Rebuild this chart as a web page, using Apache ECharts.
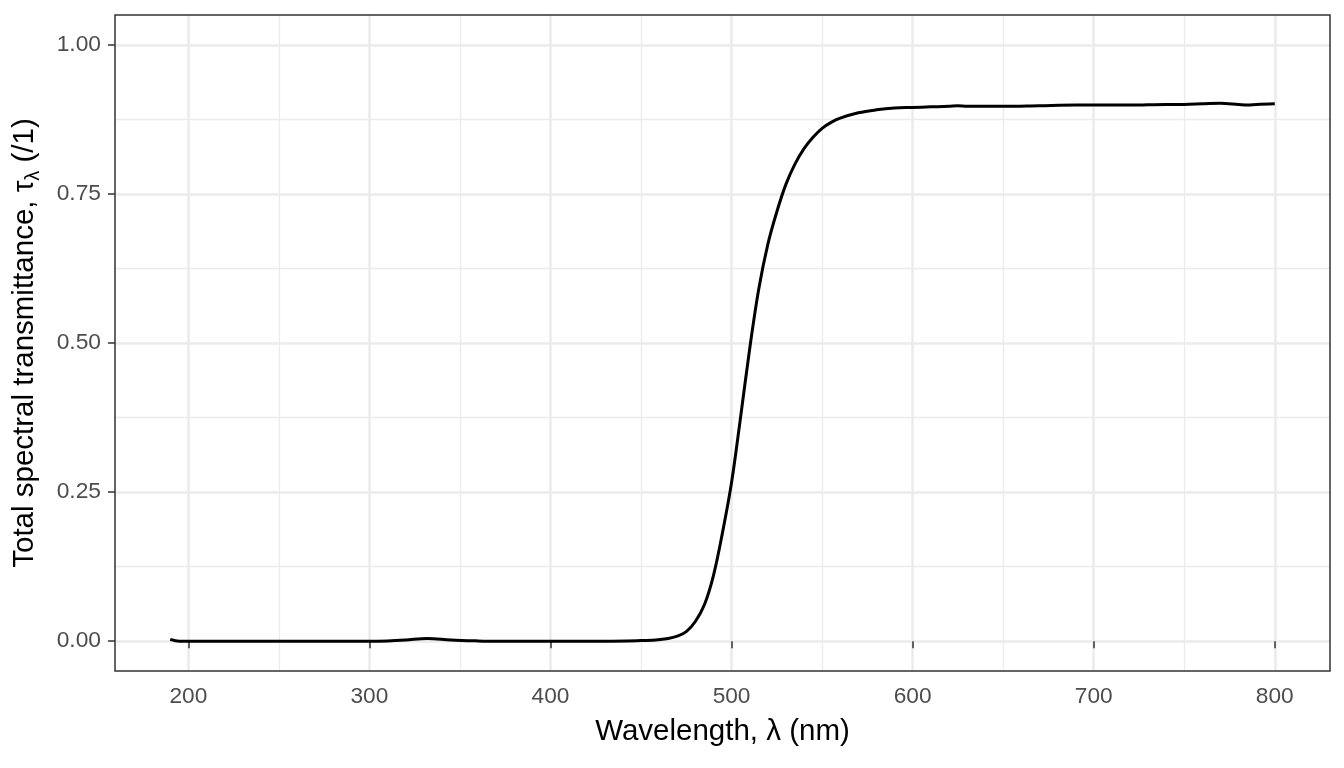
<!DOCTYPE html>
<html>
<head>
<meta charset="utf-8">
<script src="https://cdn.jsdelivr.net/npm/echarts@6/dist/echarts.min.js"></script>
<style>
html,body{margin:0;padding:0;background:#fff;}
#chart{width:1344px;height:768px;}
</style>
</head>
<body>
<div id="chart"></div>
<script>
// Wavelength (nm)
const wavelengths = [190, 195, 200, 220, 250, 280, 300, 310, 320, 332, 345, 360, 370, 400, 430, 450, 458, 465, 470, 475, 480, 485, 490, 495, 500, 505, 510, 515, 520, 525, 530, 535, 540, 545, 550, 555, 560, 570, 580, 590, 600, 610, 620, 625, 630, 650, 670, 690, 700, 720, 740, 750, 760, 770, 780, 785, 790, 800];
// Total spectral transmittance (/1)
const transmittance = [0.003, 0.0, 0.0, 0.0, 0.0, 0.0, 0.0, 0.0005, 0.002, 0.0045, 0.002, 0.0005, 0.0, 0.0, 0.0, 0.001, 0.002, 0.0045, 0.0085, 0.016, 0.033, 0.061, 0.110, 0.182, 0.266, 0.376, 0.49, 0.59, 0.665, 0.72, 0.766, 0.80, 0.826, 0.845, 0.86, 0.87, 0.877, 0.886, 0.891, 0.894, 0.895, 0.896, 0.897, 0.898, 0.897, 0.897, 0.898, 0.899, 0.899, 0.899, 0.900, 0.900, 0.901, 0.902, 0.900, 0.899, 0.900, 0.901];
// Tick values
const xTicks = [200, 300, 400, 500, 600, 700, 800];
const xMinor = [250, 350, 450, 550, 650, 750];
const yTicks = [0, 0.25, 0.5, 0.75, 1.0];
const yMinor = [0.125, 0.375, 0.625, 0.875];
const xRange = [159.5, 830.5];
const yRange = [-0.05, 1.05];

const points = wavelengths.map((w, i) => [w, transmittance[i]]);

const chart = echarts.init(document.getElementById('chart'), null, {renderer: 'canvas'});
const FONT = 'Liberation Sans, Arial, sans-serif';
const gridColor = '#EBEBEB';

chart.setOption({
  animation: false,
  backgroundColor: '#ffffff',
  grid: {left: 115, right: 14, top: 15, bottom: 97, show: true, borderColor: '#333333', borderWidth: 1.5, backgroundColor: 'transparent', z: 10},
  xAxis: [{
    type: 'value', min: xRange[0], max: xRange[1], interval: 100,
    axisLine: {show: false},
    axisTick: {show: true, length: 7, lineStyle: {color: '#333333', width: 1.5}, customValues: xTicks},
    axisLabel: {show: true, customValues: xTicks, margin: 14, color: '#4D4D4D', fontSize: 22.7, fontFamily: FONT,
      formatter: v => String(v)},
    splitLine: {show: true, lineStyle: {color: gridColor, width: 2.5}},
    name: 'Wavelength, λ (nm)', nameLocation: 'middle', nameGap: 46,
    nameTextStyle: {color: '#000000', fontSize: 29.5, fontFamily: FONT}
  }, {
    type: 'value', min: xRange[0], max: xRange[1], interval: 100, position: 'top',
    axisLine: {show: false},
    axisTick: {show: false, customValues: xMinor},
    axisLabel: {show: false, customValues: xMinor},
    splitLine: {show: true, lineStyle: {color: gridColor, width: 1.3}}
  }],
  yAxis: [{
    type: 'value', min: yRange[0], max: yRange[1], interval: 0.25,
    axisLine: {show: false},
    axisTick: {show: true, length: 7, lineStyle: {color: '#333333', width: 1.5}, customValues: yTicks},
    axisLabel: {show: true, customValues: yTicks, margin: 14, color: '#4D4D4D', fontSize: 22.8, fontFamily: FONT,
      formatter: v => v.toFixed(2)},
    splitLine: {show: true, lineStyle: {color: gridColor, width: 2.5}},
    name: '{a|Total spectral transmittance, τ}{s|λ}{a| (/1)}',
    nameLocation: 'middle', nameGap: 72, nameRotate: 90,
    nameTextStyle: {
      color: '#000000', fontSize: 29.5, fontFamily: FONT,
      rich: {
        a: {fontSize: 29.5, fontFamily: FONT, color: '#000000', lineHeight: 36, verticalAlign: 'middle'},
        s: {fontSize: 20, fontFamily: FONT, color: '#000000', lineHeight: 36, verticalAlign: 'bottom', padding: [12, 0, 0, 0]}
      }
    }
  }, {
    type: 'value', min: yRange[0], max: yRange[1], interval: 0.25, position: 'right',
    axisLine: {show: false},
    axisTick: {show: false, customValues: yMinor},
    axisLabel: {show: false, customValues: yMinor},
    splitLine: {show: true, lineStyle: {color: gridColor, width: 1.3}}
  }],
  series: [{
    type: 'line', xAxisIndex: 0, yAxisIndex: 0,
    data: points, showSymbol: false, symbol: 'none',
    smooth: 0.35,
    lineStyle: {color: '#000000', width: 3},
    z: 5
  }]
});
</script>
</body>
</html>
